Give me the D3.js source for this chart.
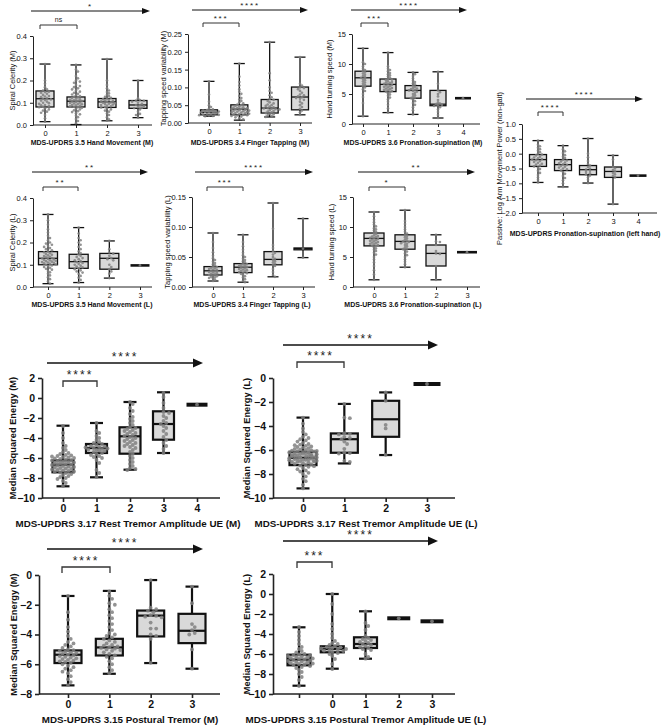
<!DOCTYPE html>
<html>
<head>
<meta charset="utf-8">
<script src="https://cdn.jsdelivr.net/npm/d3@7"></script>
<style>
  body { margin: 0; background: #fff; }
  text { font-family: "Liberation Sans", Arial, sans-serif; }
</style>
</head>
<body>
<script>
//-----------------------------------------
// data (box = [min, q1, median, q3, max])
//-----------------------------------------
var cats4 = ["0", "1", "2", "3"];
var cats5 = ["0", "1", "2", "3", "4"];
var catsC4 = ["", "0", "1", "2", "3"];

// spiral celerity (M)
var a1Box = [[0.015, 0.081, 0.118, 0.153, 0.274], [0.002, 0.081, 0.107, 0.126, 0.27], [0.019, 0.079, 0.104, 0.119, 0.296], [0.033, 0.075, 0.09, 0.11, 0.2]];
var a1Pts = [
  [0.274, 0.2, 0.185, 0.17, 0.16, 0.155, 0.15, 0.148, 0.145, 0.14, 0.135, 0.13, 0.128, 0.125, 0.12, 0.118, 0.115, 0.112, 0.11, 0.105, 0.1, 0.098, 0.095, 0.09, 0.088, 0.085, 0.082, 0.08, 0.075, 0.07, 0.065, 0.06, 0.055, 0.045, 0.03, 0.015],
  [0.27, 0.25, 0.24, 0.22, 0.21, 0.2, 0.195, 0.19, 0.18, 0.175, 0.17, 0.165, 0.16, 0.155, 0.15, 0.145, 0.14, 0.137, 0.133, 0.13, 0.127, 0.124, 0.121, 0.118, 0.115, 0.113, 0.111, 0.109, 0.107, 0.105, 0.103, 0.101, 0.099, 0.097, 0.095, 0.093, 0.09, 0.088, 0.086, 0.084, 0.082, 0.08, 0.077, 0.074, 0.07, 0.066, 0.062, 0.058, 0.053, 0.048, 0.042, 0.035, 0.027, 0.018, 0.008],
  [0.296, 0.2, 0.18, 0.165, 0.155, 0.148, 0.142, 0.136, 0.13, 0.126, 0.122, 0.119, 0.116, 0.113, 0.11, 0.108, 0.106, 0.104, 0.102, 0.1, 0.098, 0.096, 0.094, 0.092, 0.09, 0.087, 0.084, 0.081, 0.079, 0.075, 0.07, 0.065, 0.06, 0.052, 0.045, 0.035, 0.025, 0.019],
  [0.2, 0.12, 0.112, 0.11, 0.108, 0.105, 0.1, 0.095, 0.09, 0.088, 0.085, 0.08, 0.078, 0.076, 0.07, 0.06, 0.05, 0.045, 0.033]
];

// tapping speed variability (M)
var a2Box = [[0.019, 0.023, 0.03, 0.037, 0.117], [0.008, 0.023, 0.039, 0.051, 0.167], [0.017, 0.028, 0.042, 0.066, 0.227], [0.023, 0.037, 0.073, 0.101, 0.185]];
var a2Pts = [
  [0.117, 0.08, 0.06, 0.05, 0.045, 0.04, 0.038, 0.036, 0.035, 0.034, 0.033, 0.032, 0.031, 0.03, 0.03, 0.029, 0.028, 0.027, 0.026, 0.025, 0.024, 0.023, 0.022, 0.021, 0.02, 0.019],
  [0.167, 0.13, 0.115, 0.105, 0.095, 0.088, 0.082, 0.076, 0.07, 0.066, 0.062, 0.058, 0.055, 0.052, 0.05, 0.048, 0.046, 0.044, 0.043, 0.042, 0.041, 0.04, 0.039, 0.038, 0.037, 0.036, 0.035, 0.034, 0.033, 0.032, 0.031, 0.03, 0.029, 0.028, 0.027, 0.026, 0.025, 0.024, 0.023, 0.022, 0.021, 0.02, 0.018, 0.016, 0.013, 0.01],
  [0.227, 0.14, 0.12, 0.1, 0.09, 0.085, 0.078, 0.072, 0.068, 0.065, 0.062, 0.058, 0.055, 0.052, 0.05, 0.048, 0.046, 0.044, 0.042, 0.041, 0.04, 0.039, 0.038, 0.036, 0.034, 0.032, 0.03, 0.028, 0.026, 0.024, 0.022, 0.02, 0.017],
  [0.185, 0.11, 0.105, 0.1, 0.098, 0.095, 0.09, 0.085, 0.08, 0.078, 0.075, 0.072, 0.07, 0.068, 0.065, 0.06, 0.055, 0.05, 0.045, 0.04, 0.035, 0.03, 0.023]
];

// hand turning speed (M)
var a3Box = [[1.3, 6.3, 7.7, 8.8, 12.6], [1.9, 5.4, 6.6, 7.5, 11.9], [1.6, 4.3, 5.6, 6.4, 8.6], [1.0, 3.05, 3.3, 5.6, 8.7], [4.3, 4.3, 4.3, 4.3, 4.3]];
var a3Pts = [
  [12.6, 10.3, 10.0, 9.6, 9.2, 9.0, 8.8, 8.6, 8.4, 8.2, 8.0, 7.8, 7.7, 7.5, 7.3, 7.1, 6.9, 6.7, 6.5, 6.3, 6.1, 5.8, 5.5, 5.0, 4.5, 3.5, 1.3],
  [11.9, 9.6, 9.2, 9.0, 8.8, 8.5, 8.3, 8.1, 7.9, 7.7, 7.5, 7.4, 7.3, 7.1, 7.0, 6.9, 6.8, 6.7, 6.6, 6.5, 6.4, 6.3, 6.2, 6.1, 6.0, 5.9, 5.8, 5.7, 5.6, 5.5, 5.4, 5.3, 5.1, 4.9, 4.7, 4.4, 4.1, 3.7, 3.2, 2.6, 1.9],
  [8.6, 8.3, 8.0, 7.6, 7.2, 7.0, 6.8, 6.6, 6.4, 6.2, 6.0, 5.9, 5.8, 5.7, 5.6, 5.5, 5.4, 5.2, 5.0, 4.8, 4.6, 4.4, 4.3, 4.1, 3.8, 3.5, 3.2, 2.8, 2.3, 1.6],
  [8.7, 6.7, 5.6, 5.3, 5.0, 4.6, 4.0, 3.6, 3.4, 3.3, 3.2, 3.1, 3.0, 2.8, 2.4, 2.0, 1.5, 1.0],
  [4.3]
];

// passive log arm movement power
var a4Box = [[-0.97, -0.43, -0.2, -0.03, 0.44], [-1.12, -0.57, -0.37, -0.2, 0.27], [-0.99, -0.71, -0.54, -0.4, 0.51], [-1.7, -0.8, -0.6, -0.45, -0.06], [-0.74, -0.74, -0.74, -0.74, -0.74]];
var a4Pts = [
  [0.44, 0.3, 0.25, 0.2, 0.15, 0.1, 0.05, 0.0, -0.03, -0.06, -0.1, -0.13, -0.16, -0.18, -0.2, -0.22, -0.25, -0.28, -0.31, -0.34, -0.37, -0.4, -0.43, -0.47, -0.52, -0.58, -0.65, -0.72, -0.8, -0.88, -0.97],
  [0.27, 0.15, 0.08, 0.02, -0.05, -0.1, -0.15, -0.2, -0.23, -0.26, -0.3, -0.33, -0.36, -0.38, -0.41, -0.44, -0.47, -0.5, -0.53, -0.57, -0.62, -0.68, -0.75, -0.82, -0.9, -1.0, -1.12],
  [0.51, 0.0, -0.12, -0.25, -0.35, -0.4, -0.45, -0.5, -0.54, -0.58, -0.62, -0.66, -0.7, -0.74, -0.8, -0.88, -0.99],
  [-0.06, -0.2, -0.45, -0.5, -0.55, -0.6, -0.65, -0.7, -0.75, -0.8, -1.7],
  [-0.74]
];

// spiral celerity (L)
var b1Box = [[0.015, 0.1, 0.129, 0.159, 0.326], [0.02, 0.084, 0.114, 0.147, 0.267], [0.04, 0.08, 0.129, 0.151, 0.207], [0.097, 0.097, 0.097, 0.097, 0.097]];
var b1Pts = [
  [0.326, 0.3, 0.28, 0.26, 0.245, 0.23, 0.22, 0.21, 0.2, 0.195, 0.19, 0.185, 0.18, 0.175, 0.17, 0.165, 0.16, 0.156, 0.152, 0.148, 0.145, 0.142, 0.139, 0.136, 0.133, 0.13, 0.128, 0.126, 0.124, 0.122, 0.12, 0.118, 0.116, 0.114, 0.112, 0.11, 0.108, 0.106, 0.104, 0.102, 0.1, 0.097, 0.094, 0.09, 0.086, 0.082, 0.078, 0.072, 0.066, 0.06, 0.052, 0.044, 0.035, 0.025, 0.015],
  [0.267, 0.24, 0.22, 0.21, 0.2, 0.19, 0.18, 0.17, 0.16, 0.152, 0.146, 0.14, 0.135, 0.13, 0.125, 0.12, 0.116, 0.112, 0.108, 0.104, 0.1, 0.096, 0.092, 0.088, 0.084, 0.08, 0.075, 0.07, 0.065, 0.058, 0.05, 0.042, 0.032, 0.02],
  [0.207, 0.17, 0.155, 0.15, 0.14, 0.13, 0.125, 0.12, 0.1, 0.09, 0.08, 0.07, 0.06, 0.04],
  [0.097]
];

// tapping speed variability (L)
var b2Box = [[0.01, 0.02, 0.027, 0.034, 0.09], [0.008, 0.024, 0.033, 0.039, 0.087], [0.017, 0.037, 0.046, 0.059, 0.14], [0.049, 0.062, 0.064, 0.065, 0.114]];
var b2Pts = [
  [0.09, 0.075, 0.065, 0.058, 0.052, 0.048, 0.045, 0.042, 0.04, 0.038, 0.036, 0.034, 0.033, 0.032, 0.031, 0.03, 0.029, 0.028, 0.027, 0.026, 0.025, 0.024, 0.023, 0.022, 0.021, 0.02, 0.019, 0.018, 0.017, 0.016, 0.015, 0.014, 0.012, 0.01],
  [0.087, 0.075, 0.068, 0.062, 0.057, 0.053, 0.05, 0.047, 0.045, 0.043, 0.041, 0.039, 0.038, 0.037, 0.036, 0.035, 0.034, 0.033, 0.032, 0.031, 0.03, 0.029, 0.028, 0.027, 0.026, 0.025, 0.024, 0.023, 0.022, 0.02, 0.018, 0.016, 0.013, 0.01, 0.008],
  [0.14, 0.097, 0.07, 0.065, 0.06, 0.057, 0.054, 0.05, 0.047, 0.045, 0.043, 0.041, 0.039, 0.037, 0.035, 0.03, 0.025, 0.02, 0.017],
  [0.114, 0.064, 0.049]
];

// hand turning speed (L)
var b3Box = [[1.2, 6.85, 8.1, 9.0, 12.5], [3.3, 6.3, 7.6, 8.7, 12.8], [1.2, 3.5, 5.6, 7.0, 8.7], [5.8, 5.8, 5.8, 5.8, 5.8]];
var b3Pts = [
  [12.5, 11.8, 11.2, 10.8, 10.4, 10.1, 9.8, 9.6, 9.4, 9.2, 9.0, 8.8, 8.6, 8.5, 8.4, 8.3, 8.2, 8.1, 8.0, 7.9, 7.8, 7.7, 7.6, 7.5, 7.4, 7.3, 7.2, 7.1, 7.0, 6.9, 6.8, 6.6, 6.4, 6.2, 6.0, 5.7, 5.4, 5.0, 4.6, 4.1, 3.5, 2.8, 2.1, 1.2],
  [12.8, 11.0, 10.5, 10.0, 9.6, 9.2, 8.9, 8.7, 8.5, 8.3, 8.1, 7.9, 7.7, 7.6, 7.5, 7.4, 7.3, 7.2, 7.0, 6.8, 6.6, 6.4, 6.3, 6.1, 5.9, 5.6, 5.3, 5.0, 4.6, 4.2, 3.8, 3.3],
  [8.7, 7.6, 7.5, 7.0, 6.0, 5.6, 5.5, 3.5, 1.2],
  [5.8]
];

// rest tremor (M)
var c1Box = [[-8.83, -7.43, -6.67, -6.23, -2.77], [-7.93, -5.5, -5.0, -4.6, -2.5], [-7.17, -5.57, -3.83, -2.93, -0.4], [-5.5, -4.17, -2.6, -1.33, 0.57], [-0.67, -0.67, -0.67, -0.67, -0.67]];
var c1Pts = [
  [-2.8, -3.5, -4.0, -4.5, -4.8, -5.0, -5.2, -5.4, -5.5, -5.6, -5.7, -5.75, -5.8, -5.85, -5.9, -5.95, -6.0, -6.05, -6.1, -6.15, -6.2, -6.25, -6.3, -6.35, -6.4, -6.45, -6.5, -6.55, -6.6, -6.65, -6.7, -6.75, -6.8, -6.85, -6.9, -6.95, -7.0, -7.05, -7.1, -7.15, -7.2, -7.25, -7.3, -7.35, -7.4, -7.45, -7.5, -7.6, -7.7, -7.8, -7.9, -8.0, -8.1, -8.3, -8.5, -8.8],
  [-2.5, -3.3, -3.5, -3.8, -4.0, -4.2, -4.4, -4.5, -4.6, -4.7, -4.8, -4.85, -4.9, -4.95, -5.0, -5.05, -5.1, -5.15, -5.2, -5.25, -5.3, -5.4, -5.5, -5.6, -5.7, -5.8, -5.9, -6.0, -6.2, -6.5, -7.2, -7.5, -7.9],
  [-0.4, -0.6, -1.0, -1.3, -1.6, -1.9, -2.1, -2.3, -2.5, -2.7, -2.9, -3.0, -3.1, -3.2, -3.3, -3.4, -3.5, -3.6, -3.7, -3.8, -3.9, -4.0, -4.1, -4.2, -4.3, -4.4, -4.5, -4.6, -4.7, -4.8, -4.9, -5.0, -5.2, -5.4, -5.6, -5.8, -6.0, -6.2, -6.4, -6.6, -6.8, -7.0, -7.1, -7.2],
  [0.5, 0.1, -0.5, -1.0, -1.4, -1.5, -1.8, -2.0, -2.3, -2.5, -2.6, -2.8, -3.0, -3.3, -3.6, -3.9, -4.2, -4.5, -4.8, -5.1, -5.5],
  [-0.67]
];

// rest tremor (L)
var c2Box = [[-9.2, -7.26, -6.65, -6.15, -3.3], [-7.12, -6.23, -5.1, -4.62, -2.16], [-6.42, -4.9, -3.44, -1.9, -1.2], [-0.5, -0.5, -0.5, -0.5, -0.5]];
var c2Pts = [
  [-3.3, -3.8, -4.2, -4.5, -4.7, -4.9, -5.0, -5.1, -5.2, -5.3, -5.4, -5.5, -5.55, -5.6, -5.65, -5.7, -5.75, -5.8, -5.85, -5.9, -5.95, -6.0, -6.02, -6.05, -6.08, -6.1, -6.12, -6.15, -6.18, -6.2, -6.22, -6.25, -6.28, -6.3, -6.32, -6.35, -6.38, -6.4, -6.42, -6.45, -6.48, -6.5, -6.52, -6.55, -6.58, -6.6, -6.62, -6.65, -6.68, -6.7, -6.72, -6.75, -6.78, -6.8, -6.82, -6.85, -6.88, -6.9, -6.92, -6.95, -6.98, -7.0, -7.05, -7.1, -7.15, -7.2, -7.25, -7.3, -7.35, -7.4, -7.5, -7.6, -7.7, -7.8, -7.9, -8.0, -8.2, -8.4, -8.6, -8.9, -9.2],
  [-2.16, -3.3, -3.35, -4.6, -4.65, -4.7, -4.9, -5.0, -5.1, -5.3, -5.5, -5.9, -6.2, -6.25, -6.3, -6.9, -7.0],
  [-1.2, -1.9, -3.9, -4.2, -6.4],
  [-0.5]
];

// postural tremor (M)
var c3Box = [[-7.42, -5.92, -5.36, -5.07, -1.41], [-6.64, -5.41, -4.87, -4.29, -1.07], [-5.92, -4.13, -2.73, -2.39, -0.34], [-6.3, -4.58, -3.75, -2.61, -0.78]];
var c3Pts = [
  [-1.4, -2.5, -3.0, -3.5, -3.8, -4.1, -4.3, -4.5, -4.6, -4.7, -4.8, -4.9, -5.0, -5.05, -5.1, -5.15, -5.2, -5.25, -5.3, -5.35, -5.4, -5.45, -5.5, -5.55, -5.6, -5.65, -5.7, -5.75, -5.8, -5.85, -5.9, -6.0, -6.1, -6.2, -6.3, -6.4, -6.5, -6.6, -6.8, -7.0, -7.2, -7.4],
  [-1.1, -1.4, -1.6, -1.9, -2.0, -2.3, -2.5, -2.7, -2.9, -3.1, -3.3, -3.5, -3.7, -3.9, -4.0, -4.1, -4.2, -4.3, -4.4, -4.5, -4.6, -4.7, -4.75, -4.8, -4.85, -4.9, -4.95, -5.0, -5.05, -5.1, -5.2, -5.3, -5.4, -5.5, -5.6, -5.8, -6.0, -6.2, -6.4, -6.6],
  [-0.34, -2.2, -2.3, -2.4, -2.5, -2.7, -2.75, -2.8, -2.85, -3.2, -3.6, -3.6, -4.0, -4.1, -4.3, -5.9],
  [-0.78, -1.9, -3.3, -3.5, -3.7, -3.9, -4.0, -5.0, -6.3]
];

// postural tremor amplitude (L)
var c4Box = [[-9.17, -7.13, -6.57, -6.07, -3.33], [-7.47, -5.83, -5.5, -5.23, 0.0], [-6.47, -5.4, -5.0, -4.33, -1.73], [-2.43, -2.43, -2.43, -2.43, -2.43], [-2.73, -2.73, -2.73, -2.73, -2.73]];
var c4Pts = [
  [-3.3, -3.8, -4.2, -4.6, -5.0, -5.3, -5.5, -5.7, -5.85, -6.0, -6.05, -6.1, -6.15, -6.2, -6.25, -6.3, -6.35, -6.4, -6.45, -6.5, -6.55, -6.6, -6.65, -6.7, -6.75, -6.8, -6.85, -6.9, -6.95, -7.0, -7.05, -7.1, -7.2, -7.3, -7.4, -7.6, -7.8, -8.0, -8.3, -8.6, -9.2],
  [0.0, -1.0, -2.0, -3.0, -3.5, -4.0, -4.4, -4.7, -4.9, -5.0, -5.1, -5.2, -5.3, -5.35, -5.4, -5.45, -5.5, -5.55, -5.6, -5.65, -5.7, -5.8, -5.9, -6.0, -6.2, -6.5, -7.0, -7.5],
  [-1.73, -2.9, -3.2, -3.6, -4.2, -4.4, -4.5, -4.6, -4.7, -4.8, -4.9, -5.0, -5.1, -5.2, -5.3, -5.4, -5.5, -5.6, -6.0, -6.3, -6.47],
  [-2.43],
  [-2.73]
];

//-----------------------------------------
// panel layout
//-----------------------------------------
var small = { tick: 3, tickFont: 7.5, titleFont: 7, yTitleFont: 7.5, bold: "normal", stroke: 1.3, r: 1.35, starFont: 8, capW: 11, arrowLen: 8, arrowH: 3, brH: 4 };
var big = { tick: 4, tickFont: 10.5, titleFont: 9.8, yTitleFont: 9.3, bold: "bold", stroke: 2.2, r: 1.9, starFont: 12, capW: 13, arrowLen: 10, arrowH: 4.5, brH: 6 };

var panels = [
  { s: small, cats: cats4, box: a1Box, pts: a1Pts, x0: 33, xEnd: 152, yTop: 36, yBot: 125, yDom: [0, 0.4], yTicks: [0, 0.1, 0.2, 0.3, 0.4], fmt: ".1f", catRange: [45, 138], boxW: 18,
    arrow: [31, 150, 11, "*"], bracket: [40, 77, 25, "ns"], xTitle: ["MDS-UPDRS 3.5 Hand Movement (M)", 92, 145], yTitle: ["Spiral Celerity (M)", 12] },
  { s: small, cats: cats4, box: a2Box, pts: a2Pts, x0: 188, xEnd: 312, yTop: 34, yBot: 123, yDom: [0, 0.25], yTicks: [0, 0.05, 0.1, 0.15, 0.2, 0.25], fmt: ".2f", catRange: [209, 300], boxW: 17,
    arrow: [192, 308, 10, "****"], bracket: [203, 239, 23, "***"], xTitle: ["MDS-UPDRS 3.4 Finger Tapping (M)", 250, 145], yTitle: ["Tapping speed variability (M)", 163] },
  { s: small, cats: cats5, box: a3Box, pts: a3Pts, x0: 352, xEnd: 480, yTop: 34, yBot: 124, yDom: [0, 15], yTicks: [0, 5, 10, 15], fmt: "d", catRange: [363, 463], boxW: 16,
    arrow: [351, 467, 10, "****"], bracket: [361, 388, 23, "***"], xTitle: ["MDS-UPDRS 3.6 Pronation-supination (M)", 413, 145], yTitle: ["Hand turning speed (M)", 329] },
  { s: small, cats: cats5, box: a4Box, pts: a4Pts, x0: 522, xEnd: 657, yTop: 124, yBot: 213, yDom: [-2, 1], yTicks: [-2, -1.5, -1, -0.5, 0, 0.5, 1], fmt: ".1f", catRange: [538, 638], boxW: 17,
    arrow: [526, 643, 99, "****"], bracket: [538, 563, 112, "****"], xTitle: ["MDS-UPDRS Pronation-supination (left hand)", 585, 236], yTitle: ["Passive: Log Arm Movement Power (non-gait)", 499] },
  { s: small, cats: cats4, box: b1Box, pts: b1Pts, x0: 33, xEnd: 152, yTop: 198, yBot: 287, yDom: [0, 0.4], yTicks: [0, 0.1, 0.2, 0.3, 0.4], fmt: ".1f", catRange: [48, 140], boxW: 19,
    arrow: [32, 148, 172, "**"], bracket: [43, 78, 187, "**"], xTitle: ["MDS-UPDRS 3.5 Hand Movement (L)", 92, 307], yTitle: ["Spiral Celerity (L)", 12] },
  { s: small, cats: cats4, box: b2Box, pts: b2Pts, x0: 192, xEnd: 315, yTop: 197, yBot: 287, yDom: [0, 0.15], yTicks: [0, 0.05, 0.1, 0.15], fmt: ".2f", catRange: [213, 303], boxW: 18,
    arrow: [195, 313, 172, "****"], bracket: [207, 243, 187, "***"], xTitle: ["MDS-UPDRS 3.4 Finger Tapping (L)", 252, 307], yTitle: ["Tapping speed variability (L)", 167] },
  { s: small, cats: cats4, box: b3Box, pts: b3Pts, x0: 353, xEnd: 480, yTop: 197, yBot: 287, yDom: [0, 15], yTicks: [0, 5, 10, 15], fmt: "d", catRange: [374, 467], boxW: 20,
    arrow: [358, 475, 172, "**"], bracket: [369, 405, 187, "*"], xTitle: ["MDS-UPDRS 3.6 Pronation-supination (L)", 413, 307], yTitle: ["Hand turning speed (L)", 331] },
  { s: big, cats: cats5, box: c1Box, pts: c1Pts, x0: 42, xEnd: 220, yTop: 378, yBot: 498, yDom: [-10, 2], yTicks: [-10, -8, -6, -4, -2, 0, 2], fmt: "d", catRange: [63, 197], boxW: 21,
    arrow: [47, 203, 363, "****"], bracket: [63, 97, 381, "****"], xTitle: ["MDS-UPDRS 3.17 Rest Tremor Amplitude UE (M)", 128, 527], yTitle: ["Median Squared Energy (M)", 13] },
  { s: big, cats: cats4, box: c2Box, pts: c2Pts, x0: 273, xEnd: 455, yTop: 378, yBot: 498, yDom: [-10, 0], yTicks: [-10, -8, -6, -4, -2, 0], fmt: "d", catRange: [303, 427], boxW: 27,
    arrow: [283, 438, 345, "****"], bracket: [297, 344, 362, "****"], xTitle: ["MDS-UPDRS 3.17 Rest Tremor Amplitude UE (L)", 366, 527], yTitle: ["Median Squared Energy (L)", 247] },
  { s: big, cats: cats4, box: c3Box, pts: c3Pts, x0: 39, xEnd: 220, yTop: 575, yBot: 694, yDom: [-8, 0], yTicks: [-8, -6, -4, -2, 0], fmt: "d", catRange: [68, 192], boxW: 27,
    arrow: [47, 203, 549, "****"], bracket: [62, 110, 567, "****"], xTitle: ["MDS-UPDRS 3.15 Postural Tremor (M)", 130, 723], yTitle: ["Median Squared Energy (M)", 14] },
  { s: big, cats: catsC4, box: c4Box, pts: c4Pts, x0: 273, xEnd: 455, yTop: 574, yBot: 694, yDom: [-10, 2], yTicks: [-10, -8, -6, -4, -2, 0, 2], fmt: "d", catRange: [299, 432], boxW: 23,
    arrow: [283, 438, 541, "****"], bracket: [297, 332, 562, "***"], xTitle: ["MDS-UPDRS 3.15 Postural Tremor Amplitude UE (L)", 366, 723], yTitle: ["Median Squared Energy (L)", 247] }
];

var svg = d3.select("body").append("svg")
  .attr("width", 669)
  .attr("height", 727)
  .style("background", "#fff");

// simple deterministic beeswarm: nearest free horizontal slot
function swarm(vals, y, cx, r, maxW) {
  var step = r * 1.45, minD = r * 1.7;
  var k = Math.max(0, Math.floor(maxW / step));
  var placed = [];
  vals.slice().sort(function (a, b) { return b - a; }).forEach(function (v, i) {
    var py = y(v), chosen = null;
    for (var j = 0; j <= 2 * k; j++) {
      var off = j === 0 ? 0 : (j % 2 ? 1 : -1) * Math.ceil(j / 2) * step;
      var ok = placed.every(function (p) { return Math.hypot(p.x - (cx + off), p.y - py) >= minD; });
      if (ok) { chosen = cx + off; break; }
    }
    if (chosen === null) chosen = cx + (((i * 5) % (2 * k + 1)) - k) * step;
    placed.push({ x: chosen, y: py });
  });
  return placed;
}

function drawPanel(p) {
  var s = p.s;
  var lw = s === big ? 1.6 : 1;
  var g = svg.append("g");
  var y = d3.scaleLinear().domain(p.yDom).range([p.yBot, p.yTop]);
  var x = d3.scalePoint().domain(p.cats).range(p.catRange);

  // y axis
  var ya = g.append("g")
    .attr("transform", `translate(${p.x0},0)`)
    .call(d3.axisLeft(y).tickValues(p.yTicks).tickFormat(d3.format(p.fmt)).tickSize(s.tick).tickSizeOuter(0));
  ya.select(".domain").attr("stroke", "#222").attr("stroke-width", lw);
  ya.selectAll(".tick line").attr("stroke", "#222").attr("stroke-width", lw);
  ya.selectAll("text").attr("font-size", s.tickFont).attr("font-weight", s.bold).attr("fill", "#111")
    .attr("font-family", "Liberation Sans, Arial, sans-serif");

  // x axis
  g.append("line")
    .attr("x1", p.x0).attr("x2", p.xEnd)
    .attr("y1", p.yBot).attr("y2", p.yBot)
    .attr("stroke", "#222").attr("stroke-width", lw);
  var xa = g.append("g")
    .attr("transform", `translate(0,${p.yBot})`)
    .call(d3.axisBottom(x).tickSize(s.tick));
  xa.select(".domain").remove();
  xa.selectAll(".tick line").attr("stroke", "#222").attr("stroke-width", lw);
  xa.selectAll("text").attr("font-size", s.tickFont).attr("font-weight", s.bold).attr("fill", "#111")
    .attr("font-family", "Liberation Sans, Arial, sans-serif");

  // boxes
  p.box.forEach(function (b, i) {
    var cx = x(p.cats[i]);
    var half = p.boxW / 2;
    if (b[0] === b[4]) {
      g.append("line")
        .attr("x1", cx - half).attr("x2", cx + half)
        .attr("y1", y(b[2])).attr("y2", y(b[2]))
        .attr("stroke", "#111").attr("stroke-width", s === big ? 4 : 2.6);
      return;
    }
    g.append("line")
      .attr("x1", cx).attr("x2", cx)
      .attr("y1", y(b[4])).attr("y2", y(b[0]))
      .attr("stroke", "#111").attr("stroke-width", s.stroke);
    [b[0], b[4]].forEach(function (v) {
      g.append("line")
        .attr("x1", cx - s.capW / 2).attr("x2", cx + s.capW / 2)
        .attr("y1", y(v)).attr("y2", y(v))
        .attr("stroke", "#111").attr("stroke-width", s.stroke);
    });
    g.append("rect")
      .attr("x", cx - half).attr("width", p.boxW)
      .attr("y", y(b[3])).attr("height", y(b[1]) - y(b[3]))
      .attr("fill", "#d9d9d9")
      .attr("stroke", "#111").attr("stroke-width", s.stroke);
    g.append("line")
      .attr("x1", cx - half).attr("x2", cx + half)
      .attr("y1", y(b[2])).attr("y2", y(b[2]))
      .attr("stroke", "#111").attr("stroke-width", s.stroke);
  });

  // points
  p.pts.forEach(function (vals, i) {
    var cx = x(p.cats[i]);
    var maxW = p.box[i][0] === p.box[i][4] ? 0 : p.boxW * 0.6;
    g.selectAll(null)
      .data(swarm(vals, y, cx, s.r, maxW))
      .enter().append("circle")
      .attr("cx", function (d) { return d.x; })
      .attr("cy", function (d) { return d.y; })
      .attr("r", s.r)
      .attr("fill", "#808080")
      .attr("fill-opacity", 0.85);
  });

  // trend arrow
  var a = p.arrow;
  g.append("line")
    .attr("x1", a[0]).attr("x2", a[1] - s.arrowLen + 1)
    .attr("y1", a[2]).attr("y2", a[2])
    .attr("stroke", "#111").attr("stroke-width", s === big ? 1.5 : 1);
  g.append("path")
    .attr("d", `M${a[1]},${a[2]} L${a[1] - s.arrowLen},${a[2] - s.arrowH} L${a[1] - s.arrowLen},${a[2] + s.arrowH} Z`)
    .attr("fill", "#111");
  g.append("text")
    .attr("x", (a[0] + a[1]) / 2).attr("y", a[2] - 2)
    .attr("text-anchor", "middle")
    .attr("font-size", s.starFont).attr("letter-spacing", s === big ? 2 : 1.8)
    .attr("fill", "#222")
    .text(a[3]);

  // pairwise bracket
  var br = p.bracket;
  g.append("path")
    .attr("d", `M${br[0]},${br[2] + s.brH} V${br[2]} H${br[1]} V${br[2] + s.brH}`)
    .attr("fill", "none").attr("stroke", "#333").attr("stroke-width", s === big ? 1.3 : 1);
  g.append("text")
    .attr("x", (br[0] + br[1]) / 2).attr("y", br[3] === "ns" ? br[2] - 3 : br[2] - 2.5)
    .attr("text-anchor", "middle")
    .attr("font-size", br[3] === "ns" ? 7 : s.starFont).attr("letter-spacing", br[3] === "ns" ? 0 : (s === big ? 2 : 1.8))
    .attr("fill", "#222")
    .text(br[3]);

  // axis titles
  g.append("text")
    .attr("x", p.xTitle[1]).attr("y", p.xTitle[2])
    .attr("text-anchor", "middle")
    .attr("font-size", s.titleFont).attr("font-weight", "bold").attr("fill", "#111")
    .text(p.xTitle[0]);
  g.append("text")
    .attr("transform", `translate(${p.yTitle[1]},${(p.yTop + p.yBot) / 2}) rotate(-90)`)
    .attr("text-anchor", "middle")
    .attr("dy", "0.35em")
    .attr("font-size", s.yTitleFont).attr("font-weight", s.bold).attr("fill", "#111")
    .text(p.yTitle[0]);
}

panels.forEach(drawPanel);
</script>
</body>
</html>
